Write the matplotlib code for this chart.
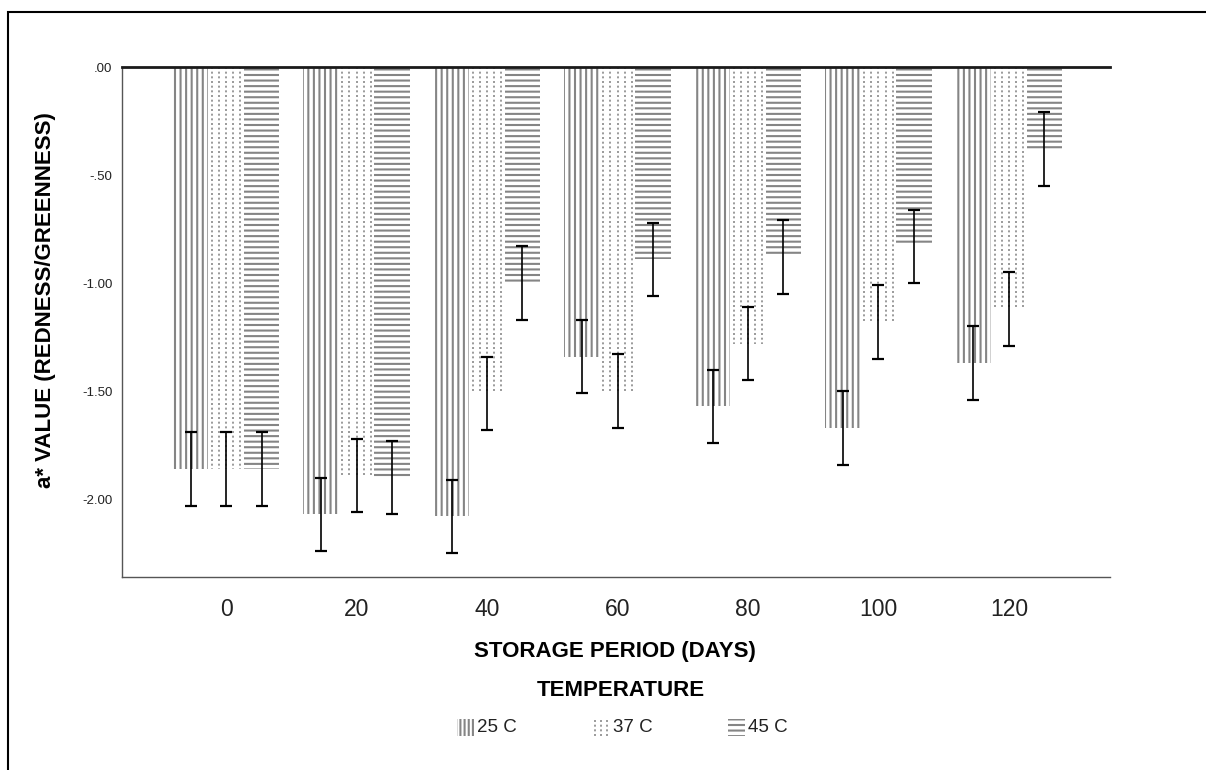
import numpy as np
import matplotlib
matplotlib.use("Agg")
import matplotlib.pyplot as plt
from matplotlib.patches import Rectangle

plt.rcParams['font.family'] = ['Liberation Sans', 'DejaVu Sans']
plt.rcParams['hatch.linewidth'] = 1.5

# data
days = ['0', '20', '40', '60', '80', '100', '120']
temps = ['25 C', '37 C', '45 C']
a_25 = [-1.86, -2.07, -2.08, -1.34, -1.57, -1.67, -1.37]
a_37 = [-1.86, -1.89, -1.51, -1.50, -1.28, -1.18, -1.12]
a_45 = [-1.86, -1.90, -1.00, -0.89, -0.88, -0.83, -0.38]
err_25 = [0.17, 0.17, 0.17, 0.17, 0.17, 0.17, 0.17]
err_37 = [0.17, 0.17, 0.17, 0.17, 0.17, 0.17, 0.17]
err_45 = [0.17, 0.17, 0.17, 0.17, 0.17, 0.17, 0.17]
yticks = [0, -0.5, -1.0, -1.5, -2.0]
ytick_labels = ['.00', '-.50', '-1.00', '-1.50', '-2.00']

W, H = 1206, 770
fig = plt.figure(figsize=(W / 100, H / 100), dpi=100)
ax = fig.add_axes([122 / W, 1 - 577 / H, (1110 - 122) / W, (577 - 67) / H])

x = np.arange(len(days))
bw = 0.272
gray = '#858585'

# 25 C: vertical lines
b25 = ax.bar(x - bw, a_25, bw, facecolor='none', edgecolor=gray, linewidth=0, hatch='|||')
# 37 C: dotted vertical lines (drawn from each bar's geometry)
b37 = ax.bar(x, a_37, bw, facecolor='none', edgecolor='none', linewidth=0)
for rect in b37:
    x0, w, h = rect.get_x(), rect.get_width(), rect.get_height()
    xs = x0 + w * (np.arange(5) + 0.5) / 5
    ax.vlines(xs, 0, h, colors='#8a8a8a', linewidth=1.2, linestyles=(0, (1.2, 1.6)))
# 45 C: horizontal lines
b45 = ax.bar(x + bw, a_45, bw, facecolor='none', edgecolor=gray, linewidth=0, hatch='---')

for off, vals, err in [(-bw, a_25, err_25), (0, a_37, err_37), (bw, a_45, err_45)]:
    ax.errorbar(x + off, vals, yerr=err, fmt='none', ecolor='black',
                elinewidth=1.2, capsize=4, capthick=1.6, zorder=4)

ax.set_xlim(-0.797, 6.774)
ax.set_ylim(-2.36, 0)
ax.set_yticks(yticks)
ax.set_yticklabels(ytick_labels)
ax.set_xticks(x)
ax.set_xticklabels(days)
ax.tick_params(axis='y', length=0, pad=7, labelsize=9.5, labelcolor='#222222')
ax.tick_params(axis='x', length=0, pad=15, labelsize=16.5, labelcolor='#222222')

ax.spines['right'].set_visible(False)
ax.spines['top'].set_color('#1a1a1a')
ax.spines['top'].set_linewidth(2)
ax.spines['left'].set_color('#555555')
ax.spines['bottom'].set_color('#555555')
ax.spines['left'].set_linewidth(1)
ax.spines['bottom'].set_linewidth(1)

fig.text(615 / W, 1 - 652 / H, 'STORAGE PERIOD (DAYS)', ha='center', va='center',
         fontsize=16, fontweight='bold')
fig.text(46 / W, 1 - 300 / H, 'a* VALUE (REDNESS/GREENNESS)', ha='center', va='center',
         rotation=90, fontsize=16, fontweight='bold')
fig.text(621 / W, 1 - 690 / H, 'TEMPERATURE', ha='center', va='center',
         fontsize=16, fontweight='bold')

# legend
leg_x = [457, 593, 728]
ly = 727
for i, (lab, px) in enumerate(zip(temps, leg_x)):
    if i == 0:
        fig.patches.append(Rectangle((px / W, 1 - (ly + 9) / H), 17 / W, 17 / H,
                                     transform=fig.transFigure, facecolor='none',
                                     edgecolor=gray, linewidth=0, hatch='||||'))
    elif i == 1:
        for k in range(3):
            xx = (px + 2 + k * 6) / W
            fig.add_artist(plt.Line2D([xx, xx], [1 - (ly + 9) / H, 1 - (ly - 8) / H],
                                      transform=fig.transFigure, color='#8a8a8a',
                                      linewidth=1.2, linestyle=(0, (1.2, 1.6))))
    else:
        fig.patches.append(Rectangle((px / W, 1 - (ly + 9) / H), 17 / W, 17 / H,
                                     transform=fig.transFigure, facecolor='none',
                                     edgecolor=gray, linewidth=0, hatch='---'))
    fig.text((px + 20) / W, 1 - (ly + 1) / H, lab, ha='left', va='center', fontsize=13.5,
             color='#222222')

# outer frame
fig.patches.append(Rectangle((8 / W, -0.1), 1.2, 1.1 - 12 / H, transform=fig.transFigure,
                             fill=False, edgecolor='black', linewidth=1.5))

fig.savefig('out.png', dpi=100)
